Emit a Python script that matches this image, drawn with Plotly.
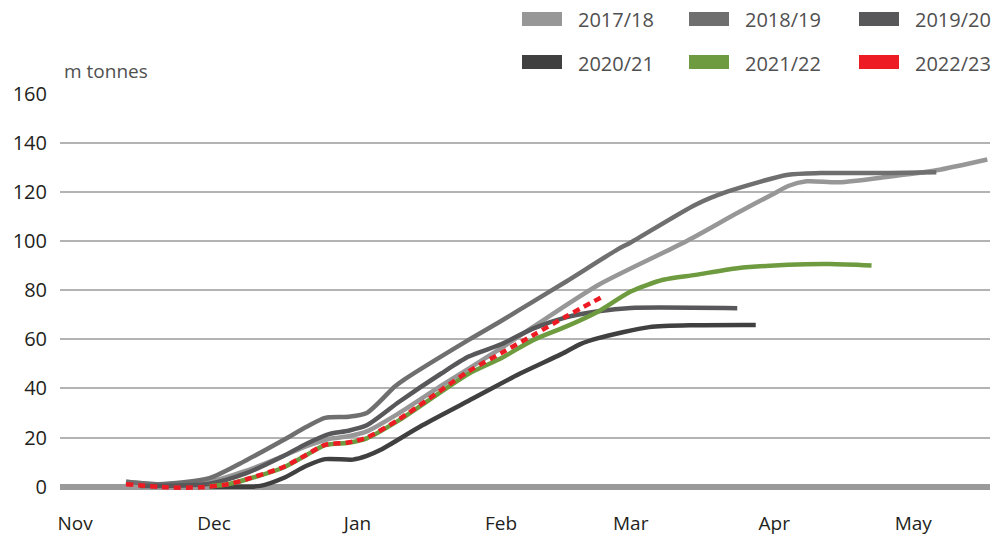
import plotly.graph_objects as go

# ---------------- data ----------------
seasons = ["2017/18", "2018/19", "2019/20", "2020/21", "2021/22", "2022/23"]
colors = ["#979797", "#6f6f70", "#58585a", "#404041", "#6e9b3f", "#ed1c24"]

d_1718 = ["11-12", "11-21", "12-01", "12-08", "12-16", "12-21", "12-26", "12-30", "01-03", "01-10",
          "01-19", "02-01", "02-08", "02-22", "03-13", "03-24", "04-01", "04-04", "04-08", "04-15",
          "04-26", "05-06", "05-17"]
v_1718 = [2.0, 0.8, 2.5, 6.5, 12.5, 16.5, 19.5, 20.5, 22.5, 30.0,
          41.0, 56.4, 65.2, 82.2, 100.0, 111.5, 119.5, 122.5, 124.4, 124.0,
          126.4, 128.9, 133.3]

d_1819 = ["11-12", "11-19", "11-30", "12-08", "12-16", "12-21", "12-25", "12-30", "01-03", "01-09",
          "01-11", "01-25", "02-01", "02-08", "02-15", "02-26", "03-01", "03-15", "03-22", "04-04",
          "04-11", "04-26", "05-06"]
v_1819 = [2.0, 1.0, 3.5, 10.8, 19.0, 24.4, 28.0, 28.5, 30.0, 40.7,
          43.5, 59.8, 67.5, 75.5, 83.5, 96.5, 99.5, 114.9, 120.3, 127.1,
          127.8, 127.8, 128.1]

d_1920 = ["11-15", "11-30", "12-08", "12-16", "12-21", "12-26", "12-30", "01-03", "01-10", "01-19",
          "01-25", "02-01", "02-08", "02-15", "02-22", "03-01", "03-24"]
v_1920 = [0.3, 1.2, 5.5, 12.5, 17.5, 21.5, 22.8, 25.0, 34.6, 46.0,
          53.0, 58.0, 64.5, 69.0, 71.5, 72.8, 72.7]

d_2021 = ["11-30", "12-11", "12-16", "12-21", "12-25", "12-31", "01-03", "01-06", "01-15", "01-25",
          "02-05", "02-14", "02-18", "02-22", "03-05", "03-15", "03-28"]
v_2021 = [0.1, 0.3, 3.5, 8.5, 11.2, 11.0, 12.5, 15.0, 25.0, 35.0,
          46.0, 54.0, 58.0, 60.5, 65.0, 65.8, 65.9]

d_2122 = ["11-30", "12-04", "12-08", "12-16", "12-21", "12-25", "12-30", "01-03", "01-10", "01-25",
          "02-01", "02-08", "02-15", "02-22", "03-01", "03-08", "03-15", "03-24", "04-04", "04-13",
          "04-22"]
v_2122 = [0.2, 1.0, 2.9, 7.8, 12.9, 16.9, 17.9, 19.7, 27.1, 46.0,
          52.3, 59.8, 65.2, 71.4, 79.5, 84.3, 86.3, 89.0, 90.4, 90.7,
          90.1]

d_2223 = ["11-12", "11-21", "11-28", "12-04", "12-08", "12-16", "12-21", "12-25", "12-30", "01-03",
          "01-10", "01-25", "02-01", "02-08", "02-15", "02-23"]
v_2223 = [1.0, -0.3, -0.3, 1.0, 3.0, 8.0, 13.0, 17.0, 18.0, 20.0,
          27.5, 47.0, 54.4, 61.8, 69.3, 77.5]

y_ticks = [0, 20, 40, 60, 80, 100, 120, 140, 160]
y_title = "m tonnes"

series_dates = [d_1718, d_1819, d_1920, d_2021, d_2122, d_2223]
series_vals = [v_1718, v_1819, v_1920, v_2021, v_2122, v_2223]


def season_date(md):
    m = int(md[:2])
    year = 2000 if m >= 10 else 2001
    return f"{year}-{md}"


FONT = "Open Sans"

fig = go.Figure()
for name, col, ds, vs in zip(seasons, colors, series_dates, series_vals):
    dash = "7px,5px" if name == "2022/23" else "solid"
    fig.add_trace(go.Scatter(
        x=[season_date(d) for d in ds], y=vs, name=name, mode="lines",
        line=dict(color=col, width=4.5, dash=dash, shape="spline", smoothing=0.7),
        showlegend=False, hoverinfo="x+y+name",
    ))

# plot-area geometry (pixels) used to place legend in paper coords
L, R, T, B = 60, 990, 94, 494
W, H = R - L, B - T


def px_x(x):
    return (x - L) / W


def px_y(y):
    return (B - y) / H


shapes = []
annotations = []
col_x = [522, 689, 859]
row_y = [19, 62]
for i, (name, col) in enumerate(zip(seasons, colors)):
    r, c = divmod(i, 3)
    x0 = col_x[c]
    yc = row_y[r]
    shapes.append(dict(type="rect", xref="paper", yref="paper",
                       x0=px_x(x0), x1=px_x(x0 + 40), y0=px_y(yc + 7), y1=px_y(yc - 7),
                       fillcolor=col, line=dict(width=0)))
    annotations.append(dict(xref="paper", yref="paper", x=px_x(x0 + 54), y=px_y(yc + 1),
                            xanchor="left", yanchor="middle", text=name, showarrow=False,
                            font=dict(family=FONT, size=20, color="#505050")))

annotations.append(dict(xref="paper", yref="paper", x=px_x(62), y=px_y(71),
                        xanchor="left", yanchor="middle", text=y_title, showarrow=False,
                        font=dict(family=FONT, size=19, color="#505050")))

fig.update_layout(
    width=993, height=536,
    margin=dict(l=L, r=993 - R, t=T, b=536 - B),
    paper_bgcolor="white", plot_bgcolor="white",
    shapes=shapes, annotations=annotations,
    font=dict(family=FONT, size=20, color="#231f20"),
    xaxis=dict(
        type="date",
        range=["2000-10-28 18:00", "2001-05-17 14:00"],
        tick0="2000-11-01", dtick="M1", tickformat="%b",
        showgrid=False, zeroline=False, showline=False, ticks="",
        ticklabelstandoff=16, automargin=False,
        tickfont=dict(family=FONT, size=19, color="#231f20"),
    ),
    yaxis=dict(
        range=[-3, 160],
        tickvals=y_ticks,
        showgrid=True, gridcolor="#b3b3b3", gridwidth=1.6,
        zeroline=True, zerolinecolor="#9a9a9a", zerolinewidth=6,
        showline=False, ticks="",
        ticklabelstandoff=12, automargin=False,
        tickfont=dict(family=FONT, size=20, color="#231f20"),
    ),
)

fig.write_html("out.html", config={"displayModeBar": False},
               post_script="document.body.style.margin='0';document.body.style.overflow='hidden';")
